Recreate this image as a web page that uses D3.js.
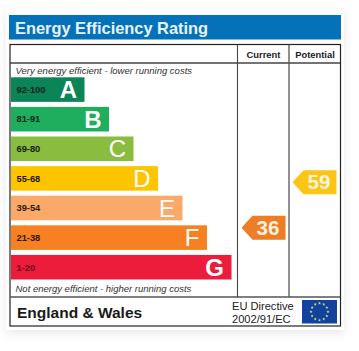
<!DOCTYPE html>
<html><head><meta charset="utf-8">
<script src="https://cdn.jsdelivr.net/npm/d3@7/dist/d3.min.js"></script>
<style>html,body{margin:0;padding:0;background:#fff}svg{display:block}text{font-family:"Liberation Sans",Arial,sans-serif}</style>
</head><body><svg id="c" width="359" height="351"></svg>
<script>
const title = "Energy Efficiency Rating";
const columnLabels = ["Current", "Potential"];
const topNote = "Very energy efficient - lower running costs";
const bottomNote = "Not energy efficient - higher running costs";
const region = "England & Wales";
const directive = ["EU Directive", "2002/91/EC"];
const bandLetters = ["A", "B", "C", "D", "E", "F", "G"];
const bandRanges = ["92-100", "81-91", "69-80", "55-68", "39-54", "21-38", "1-20"];
const bandSteps = [1, 2, 3, 4, 5, 6, 7];
const bandColors = ["#0b8457", "#1fae5e", "#8abd3f", "#fdc500", "#fba968", "#f78122", "#ec1c3b"];
const rangeColors = ["#04241a", "#04281a", "#121c04", "#1f1800", "#2e1a08", "#2e1603", "#6a0818"];
const scores = [{key: "Current", value: 36, color: "#ee7d27"}, {key: "Potential", value: 59, color: "#fbc516"}];

const svg = d3.select("#c");
const defs = svg.append("defs");
const f = defs.append("filter").attr("id", "sh").attr("x", "-10%").attr("y", "-10%").attr("width", "120%").attr("height", "125%");
f.append("feDropShadow").attr("dx", 0).attr("dy", 3).attr("stdDeviation", 5).attr("flood-color", "#000").attr("flood-opacity", 0.09);

svg.append("rect").attr("x", 6).attr("y", 9).attr("width", 338).attr("height", 321).attr("fill", "#fff").attr("filter", "url(#sh)");
svg.append("rect").attr("x", 9).attr("y", 15).attr("width", 332).attr("height", 24.5).attr("fill", "#0571b8");
svg.append("text").attr("x", 15).attr("y", 33.5).attr("font-size", 16.4).attr("font-weight", 700).attr("fill", "#e8f4fb").text(title);

// table frame
const line = (x1, y1, x2, y2, w, c) => svg.append("line").attr("x1", x1).attr("y1", y1).attr("x2", x2).attr("y2", y2).attr("stroke-width", w).attr("stroke", c);
svg.append("rect").attr("x", 10).attr("y", 44.5).attr("width", 330.5).attr("height", 281.5).attr("fill", "#fff").attr("stroke", "#222").attr("stroke-width", 1.2);
line(10, 63, 340, 63, 1.4, "#444");
line(10, 297, 340, 297, 1.4, "#555");
line(237.5, 44.5, 237.5, 297, 1.1, "#444");
line(289, 44.5, 289, 297, 1.3, "#555");

const colX = d3.scalePoint().domain(columnLabels).range([263.5, 315]);
svg.selectAll("text.col").data(columnLabels).join("text").attr("class", "col")
  .attr("x", d => colX(d)).attr("y", 57.5).attr("text-anchor", "middle").attr("font-size", 9.4).attr("font-weight", 700).attr("fill", "#222").text(d => d);

svg.append("text").attr("x", 15.5).attr("y", 74).attr("font-size", 9.5).attr("font-style", "italic").attr("fill", "#333").text(topNote);
svg.append("text").attr("x", 15.5).attr("y", 292).attr("font-size", 9.5).attr("font-style", "italic").attr("fill", "#333").text(bottomNote);

// bands
const barLeft = 11;
const w = d3.scaleLinear().domain([1, 7]).range([73.5, 220.5]);
const y = d3.scaleBand().domain(bandLetters).range([77.3, 279.5]).paddingInner(0.17);
const g = svg.selectAll("g.band").data(bandLetters).join("g").attr("class", "band");
g.append("rect").attr("x", barLeft).attr("y", d => y(d)).attr("height", y.bandwidth())
  .attr("width", (d, i) => w(bandSteps[i])).attr("fill", (d, i) => bandColors[i]);
g.append("text").attr("x", 16.5).attr("y", d => y(d) + y.bandwidth() / 2 + 3.3).attr("font-size", 9.3).attr("font-weight", 700)
  .attr("fill", (d, i) => rangeColors[i]).text((d, i) => bandRanges[i]);
g.append("text").attr("x", (d, i) => barLeft + w(bandSteps[i]) - 7.5).attr("y", d => y(d) + y.bandwidth() / 2 + 8.5)
  .attr("text-anchor", "end").attr("font-size", 24).attr("fill", "#fff").attr("font-weight", d => d === "A" || d === "B" || d === "G" ? 700 : 400).text(d => d);

// score arrows
const sy = d3.scaleLinear().domain([1, 100]).range([297, 101]);
const arrowLeft = d3.scalePoint().domain(columnLabels).range([241.5, 292.5]);
const arrowShape = d3.line();
const sg = svg.selectAll("g.score").data(scores).join("g").attr("class", "score");
sg.append("path").attr("fill", d => d.color).attr("d", d => {
  const x = arrowLeft(d.key), c = sy(d.value);
  return arrowShape([[x, c], [x + 11, c - 12], [x + 44, c - 12], [x + 44, c + 12], [x + 11, c + 12]]) + "Z";
});
sg.append("text").attr("x", d => arrowLeft(d.key) + 26.5).attr("y", d => sy(d.value) + 7.3).attr("text-anchor", "middle")
  .attr("font-size", 20.5).attr("font-weight", 700).attr("fill", "#fdf3dc").text(d => d.value);

// footer
svg.append("text").attr("x", 17).attr("y", 318).attr("font-size", 15.5).attr("font-weight", 700).attr("fill", "#1a1a1a").text(region);
svg.selectAll("text.dir").data(directive).join("text").attr("class", "dir")
  .attr("x", 232).attr("y", (d, i) => 310 + i * 12.5).attr("font-size", 11.1).attr("fill", "#222").text(d => d);

// EU flag
const flag = {x: 302, y: 300, w: 35, h: 23.5};
svg.append("rect").attr("x", flag.x).attr("y", flag.y).attr("width", flag.w).attr("height", flag.h).attr("fill", "#11439c");
const stars = d3.range(12);
const ang = d3.scaleLinear().domain([0, 12]).range([0, 2 * Math.PI]);
svg.selectAll("path.star").data(stars).join("path").attr("class", "star")
  .attr("d", d3.symbol(d3.symbolStar, 3.2))
  .attr("transform", d => `translate(${flag.x + flag.w / 2 + 8.5 * Math.sin(ang(d))},${flag.y + flag.h / 2 - 8.5 * Math.cos(ang(d))})`)
  .attr("fill", "#d8e27a");
</script></body></html>
